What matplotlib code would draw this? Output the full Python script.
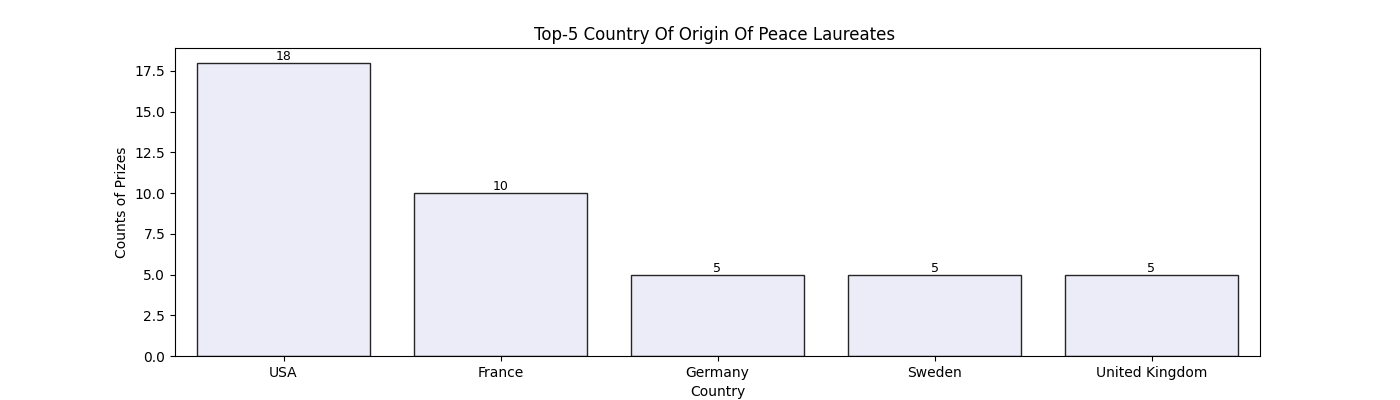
import matplotlib
matplotlib.use('Agg')
import matplotlib.pyplot as plt

countries = ['USA', 'France', 'Germany', 'Sweden', 'United Kingdom']
counts = [18, 10, 5, 5, 5]

fig, ax = plt.subplots(figsize=(14, 4), dpi=100)
bars = ax.bar(countries, counts, width=0.8, color='#ECECF8', edgecolor='#262626', linewidth=1.0)
ax.bar_label(bars, fontsize=9)
ax.set_title('Top-5 Country Of Origin Of Peace Laureates ')
ax.set_xlabel('Country')
ax.set_ylabel('Counts of Prizes')
ax.set_xlim(-0.5, len(countries) - 0.5)
fig.savefig('out.png')
